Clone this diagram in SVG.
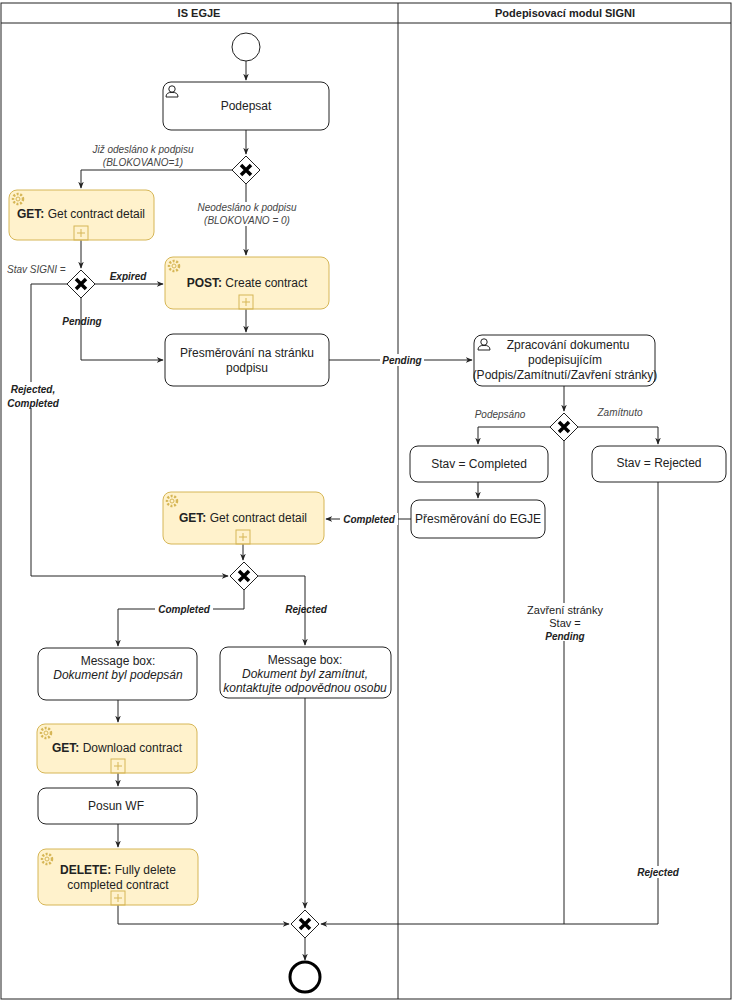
<svg xmlns="http://www.w3.org/2000/svg" width="732" height="1001" viewBox="0 0 732 1001">
<style>
text{font-family:"Liberation Sans",Arial,sans-serif;font-size:11px;fill:#222;text-anchor:middle}
.t{font-size:12px}
.i{font-style:italic;fill:#444;font-size:10px}
.bi{font-style:italic;font-weight:bold;font-size:10px}
.h{font-weight:bold;font-size:11px}
.box{fill:#fff;stroke:#222;stroke-width:1}
.svc{fill:#fff2cc;stroke:#d6b656;stroke-width:1}
.gw{fill:#fff;stroke:#222;stroke-width:1}
.x{stroke:#000;stroke-width:3.5;fill:none}
.c{fill:none;stroke:#222;stroke-width:1;marker-end:url(#a)}
.n{fill:none;stroke:#222;stroke-width:1}
.lb{fill:#fff}
</style>
<defs>
<marker id="a" viewBox="0 0 10 10" refX="9" refY="5" markerWidth="7" markerHeight="7" orient="auto"><path d="M0,1 L10,5 L0,9 L3,5 z" fill="#222"/></marker>
<g id="gear"><circle r="5" fill="none" stroke="#d6b656" stroke-width="2.5" stroke-dasharray="2 1.6"/><circle r="2" fill="none" stroke="#d6b656" stroke-width="1"/></g>
<g id="plus"><rect x="-7" y="-7" width="14" height="14" fill="none" stroke="#d6b656"/><path d="M-4,0H4M0,-4V4" stroke="#d6b656"/></g>
<g id="user"><circle cx="0" cy="-3" r="3.2" fill="#fff" stroke="#222"/><path d="M-6,5 Q-6,0 0,0.5 Q6,0 6,5 Z" fill="#fff" stroke="#222"/></g>
<g id="gx"><path d="M-14,0 L0,-14 L14,0 L0,14 Z" class="gw"/><path d="M-5,-5 L5,5 M5,-5 L-5,5" class="x"/></g>
</defs>
<rect width="732" height="1001" fill="#fff"/>
<g id="pools">
<rect x="1" y="3" width="730" height="996" fill="none" stroke="#222"/>
<line x1="1" y1="23" x2="731" y2="23" stroke="#222"/>
<line x1="398" y1="3" x2="398" y2="999" stroke="#222"/>
<text x="199" y="17" class="h">IS EGJE</text>
<text x="565" y="17" class="h">Podepisovací modul SIGNI</text>
</g>
<g id="connectors">
<path d="M246,61V80" class="c"/>
<path d="M246,130V154" class="c"/>
<path d="M232,170H81V188" class="c"/>
<path d="M246,184V255" class="c"/>
<path d="M81,240V268" class="c"/>
<path d="M95,284H163" class="c"/>
<path d="M81,298V360H163" class="c"/>
<path d="M246,309V332" class="c"/>
<path d="M329,360H472" class="c"/>
<path d="M67,284H31V576H228" class="c"/>
<path d="M564,386V411" class="c"/>
<path d="M550,427H478V444" class="c"/>
<path d="M578,427H658V444" class="c"/>
<path d="M478,482V498" class="c"/>
<path d="M411,519H326" class="c"/>
<path d="M243,544V560" class="c"/>
<path d="M258,576H305V645" class="c"/>
<path d="M244,590V609H118V646" class="c"/>
<path d="M118,700V722" class="c"/>
<path d="M118,773V786" class="c"/>
<path d="M118,824V847" class="c"/>
<path d="M118,905V924H289" class="c"/>
<path d="M305,698V908" class="c"/>
<path d="M564,441V924H321" class="c"/>
<path d="M658,482V924H564" class="n"/>
<path d="M305,938V960" class="c"/>
<text x="143" y="153" class="i">Již odesláno k podpisu</text>
<text x="143" y="166" class="i">(BLOKOVANO=1)</text>
<rect x="193" y="202" width="108" height="24" class="lb"/>
<text x="247" y="211" class="i">Neodesláno k podpisu</text>
<text x="247" y="224" class="i">(BLOKOVANO = 0)</text>
<text x="7" y="273" class="i" style="text-anchor:start">Stav SIGNI =</text>
<text x="128" y="280" class="bi">Expired</text>
<text x="82" y="325" class="bi">Pending</text>
<rect x="380" y="354" width="44" height="12" class="lb"/>
<text x="402" y="364" class="bi">Pending</text>
<rect x="5" y="382" width="56" height="26" class="lb"/>
<text x="33" y="393" class="bi">Rejected,</text>
<text x="33" y="407" class="bi">Completed</text>
<text x="500" y="418" class="i">Podepsáno</text>
<text x="620" y="416" class="i">Zamítnuto</text>
<rect x="340" y="513" width="58" height="12" class="lb"/>
<text x="369" y="523" class="bi">Completed</text>
<rect x="155" y="603" width="58" height="12" class="lb"/>
<text x="184" y="613" class="bi">Completed</text>
<text x="306" y="613" class="bi">Rejected</text>
<rect x="524" y="603" width="82" height="38" class="lb"/>
<text x="565" y="614">Zavření stránky</text>
<text x="565" y="627">Stav =</text>
<text x="565" y="640" class="bi">Pending</text>
<rect x="634" y="866" width="48" height="12" class="lb"/>
<text x="658" y="876" class="bi">Rejected</text>
</g>
<g id="start"><circle cx="246" cy="47" r="14" fill="#fff" stroke="#222"/></g>
<g id="podepsat"><rect x="163" y="82" width="166" height="48" rx="8" class="box"/><use href="#user" x="172" y="92"/><text x="246" y="110" class="t">Podepsat</text></g>
<g id="gw1"><use href="#gx" x="246" y="170"/></g>
<g id="get1"><rect x="9" y="190" width="145" height="50" rx="8" class="svc"/><use href="#gear" x="18" y="199"/><use href="#plus" x="81" y="233"/><text x="81" y="218" class="t"><tspan font-weight="bold">GET:</tspan> Get contract detail</text></g>
<g id="gw2"><use href="#gx" x="81" y="284"/></g>
<g id="post"><rect x="165" y="257" width="164" height="52" rx="8" class="svc"/><use href="#gear" x="174" y="266"/><use href="#plus" x="246" y="302"/><text x="247" y="287" class="t"><tspan font-weight="bold">POST:</tspan> Create contract</text></g>
<g id="redirect"><rect x="165" y="334" width="164" height="52" rx="8" class="box"/><text x="247" y="357" class="t">Přesměrování na stránku</text><text x="247" y="372" class="t">podpisu</text></g>
<g id="zprac"><rect x="474" y="335" width="181" height="51" rx="8" class="box"/><use href="#user" x="484" y="345"/><text x="568" y="349" class="t">Zpracování dokumentu</text><text x="565" y="364" class="t">podepisujícím</text><text x="565" y="379" class="t">(Podpis/Zamítnutí/Zavření stránky)</text></g>
<g id="gw4"><use href="#gx" x="564" y="427"/></g>
<g id="completed"><rect x="410" y="446" width="138" height="36" rx="8" class="box"/><text x="479" y="468" class="t">Stav = Completed</text></g>
<g id="rejected"><rect x="592" y="446" width="134" height="36" rx="8" class="box"/><text x="659" y="467" class="t">Stav = Rejected</text></g>
<g id="redir2"><rect x="411" y="500" width="134" height="38" rx="8" class="box"/><text x="478" y="523" class="t">Přesměrování do EGJE</text></g>
<g id="get2"><rect x="163" y="492" width="161" height="52" rx="8" class="svc"/><use href="#gear" x="172" y="501"/><use href="#plus" x="243" y="537"/><text x="243" y="522" class="t"><tspan font-weight="bold">GET:</tspan>  Get contract detail</text></g>
<g id="gw3"><use href="#gx" x="244" y="576"/></g>
<g id="msg1"><rect x="38" y="648" width="159" height="52" rx="8" class="box"/><text x="118" y="665" class="t">Message box:</text><text x="118" y="679" class="t" font-style="italic">Dokument byl podepsán</text></g>
<g id="msg2"><rect x="220" y="647" width="171" height="51" rx="8" class="box"/><text x="305" y="664" class="t">Message box:</text><text x="305" y="678" class="t" font-style="italic">Dokument byl zamítnut,</text><text x="305" y="692" class="t" font-style="italic">kontaktujte odpovědnou osobu</text></g>
<g id="download"><rect x="37" y="724" width="160" height="49" rx="8" class="svc"/><use href="#gear" x="46" y="733"/><use href="#plus" x="118" y="766"/><text x="117" y="752" class="t"><tspan font-weight="bold">GET:</tspan> Download contract</text></g>
<g id="posun"><rect x="38" y="788" width="159" height="36" rx="8" class="box"/><text x="116" y="810" class="t">Posun WF</text></g>
<g id="delete"><rect x="38" y="849" width="160" height="56" rx="8" class="svc"/><use href="#gear" x="47" y="859"/><use href="#plus" x="118" y="898"/><text x="118" y="874" class="t"><tspan font-weight="bold">DELETE:</tspan>  Fully delete</text><text x="118" y="889" class="t">completed contract</text></g>
<g id="gw5"><use href="#gx" x="305" y="924"/></g>
<g id="end"><circle cx="305" cy="977" r="15" fill="#fff" stroke="#000" stroke-width="3"/></g>
</svg>
